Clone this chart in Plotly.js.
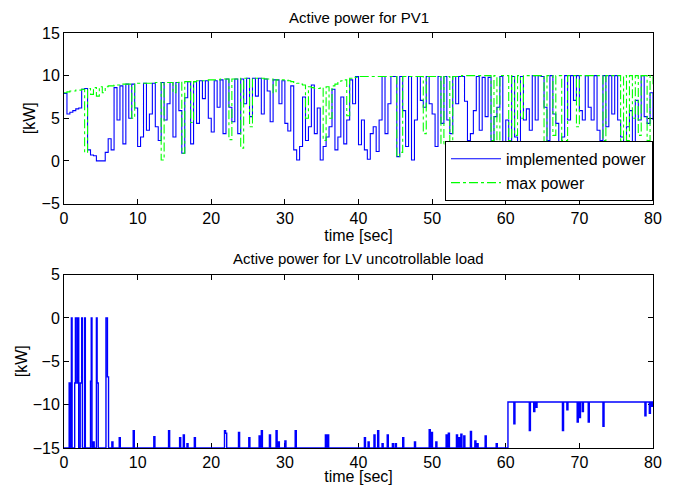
<!DOCTYPE html>
<html>
<head>
<meta charset="utf-8">
<script src="https://cdn.plot.ly/plotly-3.0.1.min.js"></script>
<style>
html, body { margin: 0; padding: 0; background: #fff; }
#chart { width: 675px; height: 485px; }
</style>
</head>
<body>
<div id="chart"></div>
<script>
// ---- PV1 active power, sampled every 0.4 s from t = 0 to 80 s ----
const pvStart = 0;
const pvStep = 0.4;
const implementedPower = [
  7.9, 5.5, 5.7, 5.9, 6.1, 6.2, 8.4, 8.5, 1.3, 0.7,
  0.6, 0.0, 0.0, 0.0, 1.0, 2.6, 1.3, 8.6, 4.8, 8.8,
  2.0, 9.0, 5.0, 9.0, 6.2, 1.7, 2.8, 9.1, 3.6, 5.5,
  9.1, 4.0, 2.4, 9.2, 4.8, 6.7, 9.2, 2.8, 9.2, 5.9,
  0.9, 7.4, 9.3, 2.0, 9.3, 4.4, 9.4, 7.3, 9.4, 5.0,
  3.4, 9.4, 6.3, 9.5, 3.2, 9.6, 6.3, 4.6, 9.6, 3.2,
  9.6, 6.7, 9.7, 5.2, 9.7, 7.6, 9.7, 5.5, 9.6, 8.2,
  4.6, 9.5, 9.5, 6.7, 9.4, 4.4, 3.5, 8.8, 1.3, 0.1,
  1.7, 7.5, 2.4, 4.0, 8.9, 3.2, 6.2, 0.1, 1.7, 2.8,
  4.0, 8.4, 1.3, 2.8, 7.5, 2.0, 4.8, 9.5, 6.7, 9.9,
  1.9, 4.8, 1.3, 0.2, 3.2, 4.0, 1.1, 4.8, 9.9, 3.2,
  6.7, 9.9, 9.9, 0.5, 9.9, 5.9, 1.7, 9.9, 0.1, 4.8,
  9.9, 7.1, 6.3, 9.9, 6.7, 5.5, 1.7, 9.9, 4.4, 9.9,
  4.8, 3.2, 9.9, 6.7, 9.9, 9.9, 7.0, 2.4, 3.2, 5.9,
  9.9, 3.6, 9.8, 5.2, 9.8, 2.4, 5.2, 6.3, 9.9, 0.5,
  4.8, 2.0, 9.9, 2.8, 0.5, 9.9, 4.8, 6.1, 3.6, 10.0,
  4.8, 10.0, 9.9, 6.3, 2.4, 10.0, 5.5, 4.4, 0.5, 2.8,
  10.0, 4.8, 10.0, 7.1, 10.0, 5.9, 4.8, 10.0, 6.3, 4.8,
  10.0, 3.6, 2.4, 10.0, 4.0, 10.0, 5.5, 10.0, 4.8, 2.8,
  0.5, 4.0, 5.9, 1.0, 7.1, 4.8, 10.0, 5.2, 4.4, 8.0,
  4.8
];
const maxPower = [
  8.0, 8.1, 8.2, 8.2, 8.3, 8.3, 8.4, 1.0, 8.5, 7.8,
  8.6, 7.6, 8.7, 8.0, 8.7, 8.8, 8.8, 8.9, 8.9, 9.0,
  9.0, 9.0, 9.0, 5.0, 9.0, 9.1, 9.1, 9.1, 9.1, 9.1,
  9.1, 9.2, 9.2, 0.1, 9.2, 9.2, 9.2, 8.0, 9.2, 9.3,
  0.9, 9.3, 9.3, 4.5, 9.3, 9.4, 9.4, 9.4, 9.4, 9.5,
  9.5, 9.5, 9.5, 9.6, 9.6, 9.6, 2.5, 9.6, 9.6, 9.7,
  1.5, 9.7, 9.7, 4.0, 9.7, 9.7, 9.7, 9.7, 9.6, 9.6,
  9.6, 8.0, 9.5, 9.5, 9.5, 9.5, 9.4, 9.3, 9.2, 9.1,
  9.0, 8.9, 5.0, 8.7, 8.6, 8.5, 8.5, 8.6, 2.4, 8.7,
  5.0, 8.8, 9.0, 9.2, 9.4, 9.5, 5.3, 9.7, 9.8, 9.8,
  9.9, 9.9, 9.9, 9.9, 9.9, 9.9, 9.9, 9.9, 9.9, 9.9,
  9.9, 9.9, 9.9, 0.5, 1.0, 9.9, 9.9, 9.9, 9.9, 9.9,
  9.9, 9.9, 3.2, 9.9, 9.9, 9.9, 9.9, 9.9, 2.0, 9.9,
  9.9, 2.2, 9.9, 9.9, 9.9, 10.0, 10.0, 10.0, 10.0, 10.0,
  10.0, 10.0, 10.0, 10.0, 10.0, 2.4, 10.0, 1.0, 10.0, 10.0,
  10.0, 2.4, 10.0, 3.0, 10.0, 5.0, 10.0, 10.0, 10.0, 10.0,
  10.0, 10.0, 10.0, 2.0, 10.0, 10.0, 3.0, 10.0, 10.0, 2.4,
  2.4, 10.0, 10.0, 10.0, 4.0, 10.0, 10.0, 10.0, 10.0, 10.0,
  10.0, 10.0, 10.0, 2.4, 10.0, 10.0, 10.0, 10.0, 10.0, 2.4,
  10.0, 2.4, 10.0, 5.0, 10.0, 3.0, 10.0, 10.0, 2.4, 10.0,
  9.0
];

// ---- LV uncontrollable load: change times [s] and values [kW] ----
const loadT = [
  0, 0.7, 0.85, 1.0, 1.1, 1.45, 1.55, 1.75, 1.85, 2.0, 2.2, 2.4, 2.5, 2.8, 2.9,
  3.6, 3.7, 3.8, 3.95, 4.1, 4.4, 4.5, 4.65, 5.7, 5.9, 6.05,
  6.5, 6.65, 7.5, 7.65, 9.4, 9.55, 12.2, 12.35, 14.2, 14.35,
  15.7, 15.85, 16.2, 16.35, 16.7, 16.85, 17.7, 17.85,
  21.8, 21.95, 22.1, 23.7, 23.85, 25.1, 25.25, 26.5, 26.65, 26.8, 26.95,
  27.9, 28.05, 28.8, 28.95, 29.1, 29.25, 30.0, 30.15, 31.4, 31.55,
  35.5, 35.65, 35.8, 35.95,
  40.8, 40.95, 41.3, 41.45, 42.1, 42.25, 42.6, 42.75, 43.2, 43.35, 43.9, 44.05,
  44.6, 44.75, 45.0, 45.15, 46.0, 46.15, 47.6, 47.75,
  49.6, 49.75, 49.9, 50.05, 50.5, 50.65, 51.9, 52.05, 52.2, 52.35,
  53.3, 53.45, 53.6, 53.75, 53.9, 54.05, 54.3, 54.45, 55.2, 55.35, 55.8, 55.95, 56.1, 56.25,
  57.2, 57.35, 58.7, 58.85,
  60.3, 61.1, 61.25, 63.2, 63.35, 63.8, 63.95, 64.1, 64.25,
  67.7, 67.85, 68.3, 68.45, 69.7, 69.85, 70.0, 70.15, 70.4, 70.55, 71.2, 71.35,
  73.2, 73.35, 78.9, 79.05, 79.5, 79.65, 79.8, 79.95, 80
];
const loadP = [
  -15, -7.5, -15, 0, -15, -7.5, 0, -7.5, 0, -15, -7.5, 0, -15, 0, -15,
  -7.3, 0, -15, -14.3, -15, 0, -7.5, -15, 0, -6.8, -15,
  -14.3, -15, -13.8, -15, -13.0, -15, -13.7, -15, -13.0, -15,
  -13.8, -15, -13.5, -15, -14.5, -15, -13.8, -15,
  -13.0, -13.3, -15, -13.2, -15, -13.8, -15, -13.6, -15, -13.0, -15,
  -13.5, -15, -13.0, -15, -14.3, -15, -14.2, -15, -13.0, -15,
  -13.5, -15, -13.5, -15,
  -13.8, -15, -14.3, -15, -13.5, -15, -13.0, -15, -14.5, -15, -13.5, -15,
  -14.5, -15, -14.5, -15, -13.8, -15, -14.3, -15,
  -12.9, -15, -13.2, -15, -14.3, -15, -13.5, -15, -13.3, -15,
  -13.5, -15, -13.8, -15, -13.4, -15, -13.6, -15, -13.1, -15, -14.2, -15, -14.5, -15,
  -13.6, -15, -14.5, -15,
  -9.7, -12.2, -9.7, -13.0, -9.7, -10.8, -9.7, -10.3, -9.7,
  -13.0, -9.7, -10.6, -9.7, -12.0, -9.7, -11.5, -9.7, -10.8, -9.7, -12.0, -9.7,
  -12.5, -9.7, -11.3, -9.7, -11.0, -9.7, -10.2, -9.7, -9.7
];

const xTicks = [0, 10, 20, 30, 40, 50, 60, 70, 80];
const pvTicks = [-5, 0, 5, 10, 15];
const loadTicks = [-15, -10, -5, 0, 5];

const FONT = 'Liberation Sans, Arial, Helvetica, sans-serif';
const BLUE = '#0000ff';
const GREEN = '#00ff00';

const traces = [
  {
    type: 'scatter', mode: 'lines', name: 'implemented power',
    x0: pvStart, dx: pvStep, y: implementedPower,
    line: { color: BLUE, width: 1.1, shape: 'hv' },
    xaxis: 'x', yaxis: 'y'
  },
  {
    type: 'scatter', mode: 'lines', name: 'max power',
    x0: pvStart, dx: pvStep, y: maxPower,
    line: { color: GREEN, width: 1.1, shape: 'hv', dash: 'dashdot' },
    xaxis: 'x', yaxis: 'y'
  },
  {
    type: 'scatter', mode: 'lines', name: 'load',
    x: loadT, y: loadP, showlegend: false,
    line: { color: BLUE, width: 1.4, shape: 'hv' },
    xaxis: 'x2', yaxis: 'y2'
  }
];

const axisCommon = {
  showline: true, mirror: 'ticks', linecolor: '#000', linewidth: 1,
  ticks: 'inside', ticklen: 5, tickcolor: '#000', tickwidth: 1,
  showgrid: false, zeroline: false, layer: 'below traces',
  tickfont: { family: FONT, size: 16, color: '#000' }
};

const layout = {
  width: 675, height: 485,
  paper_bgcolor: '#fff', plot_bgcolor: '#fff',
  margin: { l: 64, r: 22, t: 33, b: 37 },
  font: { family: FONT, size: 16, color: '#000' },
  showlegend: true,
  legend: {
    x: 1, xanchor: 'right', y: 0.74, yanchor: 'top',
    bgcolor: '#fff', bordercolor: '#000', borderwidth: 1,
    font: { family: FONT, size: 16, color: '#000' },
    itemwidth: 50, tracegroupgap: 0
  },
  xaxis: Object.assign({}, axisCommon, {
    domain: [0, 1], anchor: 'y', range: [0, 80], tickvals: xTicks,
    title: { text: 'time [sec]', font: { family: FONT, size: 16 }, standoff: 0 }
  }),
  yaxis: Object.assign({}, axisCommon, {
    domain: [0.589, 1], anchor: 'x', range: [-5, 15], tickvals: pvTicks,
    title: { text: '[kW]', font: { family: FONT, size: 16 }, standoff: 1 }
  }),
  xaxis2: Object.assign({}, axisCommon, {
    domain: [0, 1], anchor: 'y2', range: [0, 80], tickvals: xTicks,
    title: { text: 'time [sec]', font: { family: FONT, size: 16 }, standoff: 5 }
  }),
  yaxis2: Object.assign({}, axisCommon, {
    domain: [0, 0.418], anchor: 'x2', range: [-15, 5], tickvals: loadTicks,
    title: { text: '[kW]', font: { family: FONT, size: 16 }, standoff: 1 }
  }),
  annotations: [
    {
      text: 'Active power for PV1', xref: 'paper', yref: 'paper',
      x: 0.5, y: 1, xanchor: 'center', yanchor: 'bottom', yshift: 5,
      showarrow: false, font: { family: FONT, size: 15, color: '#000' }
    },
    {
      text: 'Active power for LV uncotrollable load', xref: 'paper', yref: 'paper',
      x: 0.5, y: 0.418, xanchor: 'center', yanchor: 'bottom', yshift: 6,
      showarrow: false, font: { family: FONT, size: 15, color: '#000' }
    }
  ]
};

Plotly.newPlot('chart', traces, layout, { displayModeBar: false, staticPlot: true });
</script>
</body>
</html>
